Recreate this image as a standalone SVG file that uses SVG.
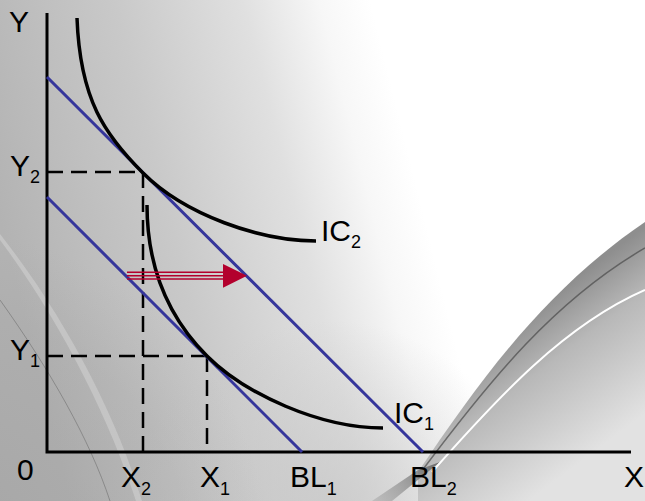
<svg xmlns="http://www.w3.org/2000/svg" width="645" height="501" viewBox="0 0 645 501">
<defs>
<linearGradient id="bg" gradientUnits="userSpaceOnUse" x1="0" y1="220" x2="400" y2="120">
<stop offset="0" stop-color="#b3b3b3"/>
<stop offset="0.4" stop-color="#c9c9c9"/>
<stop offset="0.7" stop-color="#e0e0e0"/>
<stop offset="0.88" stop-color="#f7f7f7"/>
<stop offset="1" stop-color="#ffffff"/>
</linearGradient>
<radialGradient id="low" gradientUnits="userSpaceOnUse" cx="330" cy="520" r="200">
<stop offset="0" stop-color="#c8c8c8" stop-opacity="0.8"/>
<stop offset="1" stop-color="#c8c8c8" stop-opacity="0"/>
</radialGradient>
<radialGradient id="corner" gradientUnits="userSpaceOnUse" cx="-60" cy="560" r="330">
<stop offset="0" stop-color="#8a8a8a" stop-opacity="0.35"/>
<stop offset="0.75" stop-color="#9a9a9a" stop-opacity="0.2"/>
<stop offset="1" stop-color="#a0a0a0" stop-opacity="0"/>
</radialGradient>
<linearGradient id="fan" gradientUnits="userSpaceOnUse" x1="520" y1="320" x2="610" y2="440">
<stop offset="0" stop-color="#8e8e8e"/>
<stop offset="0.35" stop-color="#b8b8b8"/>
<stop offset="1" stop-color="#e2e2e2"/>
</linearGradient>
<linearGradient id="band" gradientUnits="userSpaceOnUse" x1="440" y1="460" x2="370" y2="501">
<stop offset="0" stop-color="#6a6a6a"/>
<stop offset="1" stop-color="#a0a0a0" stop-opacity="0.4"/>
</linearGradient>
<style>
.lbl{font-family:"Liberation Sans",Arial,sans-serif;font-size:30px;fill:#000}
.sub{font-size:18px}
.ax{stroke:#000;stroke-width:3;fill:none}
.ic{stroke:#000;stroke-width:3.5;fill:none;stroke-linecap:butt}
.bl{stroke:#35359b;stroke-width:3;fill:none}
.dash{stroke:#000;stroke-width:2.5;fill:none;stroke-dasharray:16 8}
.red{stroke:#b3002d;stroke-width:1.5;fill:none}
</style>
</defs>

<g id="background">
<rect x="0" y="0" width="645" height="501" fill="url(#bg)"/>
<rect x="0" y="0" width="645" height="501" fill="url(#low)"/>
<rect x="0" y="0" width="645" height="501" fill="url(#corner)"/>
<path d="M0,240 C60,320 110,420 136,501 L142,501 C116,415 66,318 0,234 Z" fill="#dadada" opacity="0.45"/>
<path d="M0,300 C50,370 90,440 110,501" stroke="#5a5a5a" stroke-width="1" fill="none" opacity="0.45"/>
<path d="M418,472 C480,380 545,290 645,222 L645,501 L418,501 Z" fill="url(#fan)"/>
<path d="M418,470 L372,501 L392,501 L440,462 Z" fill="url(#band)"/>
<path d="M424,468 C490,380 555,300 645,248" stroke="#4a4a4a" stroke-width="1.5" fill="none" opacity="0.7"/>
<path d="M432,472 C500,395 565,325 645,290" stroke="#ffffff" stroke-width="2" fill="none"/>
</g>

<g id="axes">
<path class="ax" d="M47,13 L47,452 L631,452"/>
</g>

<g id="guides">
<path class="dash" d="M47,172 L143,172 M143,172 L143,452"/>
<path class="dash" d="M47,356 L207,356 M207,356 L207,452"/>
</g>

<g id="BL1">
<path class="bl" d="M47,197 L302,452"/>
</g>
<g id="BL2">
<path class="bl" d="M47,77 L423,452"/>
</g>

<g id="IC2">
<path class="ic" d="M77,18 C80,100 105,135 143,173 C185,215 260,241 316,241"/>
</g>
<g id="IC1">
<path class="ic" d="M147,205 C147,285 183,332 207,356 C245,394 320,428 383,428"/>
</g>

<g id="connectors">
<path class="red" d="M127,272.3 L224,272.3 M127,275.7 L224,275.7 M127,279 L224,279"/>
<polygon points="223,264 247,275.7 223,287.7" fill="#b3002d"/>
</g>

<g id="labels">
<text class="lbl" x="9" y="32">Y</text>
<text class="lbl" x="10" y="176">Y<tspan class="sub" dy="7">2</tspan></text>
<text class="lbl" x="10" y="360">Y<tspan class="sub" dy="7">1</tspan></text>
<text class="lbl" x="17" y="480">0</text>
<text class="lbl" x="121" y="487">X<tspan class="sub" dy="8">2</tspan></text>
<text class="lbl" x="200" y="487">X<tspan class="sub" dy="8">1</tspan></text>
<text class="lbl" x="290" y="487">BL<tspan class="sub" dy="8">1</tspan></text>
<text class="lbl" x="410" y="487">BL<tspan class="sub" dy="8">2</tspan></text>
<text class="lbl" x="624" y="487">X</text>
<text class="lbl" x="321" y="241">IC<tspan class="sub" dy="7">2</tspan></text>
<text class="lbl" x="394" y="423">IC<tspan class="sub" dy="7">1</tspan></text>
</g>
</svg>
